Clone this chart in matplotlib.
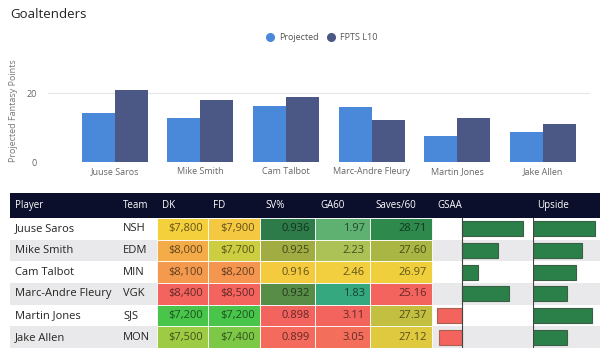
import numpy as np
import matplotlib
matplotlib.use("Agg")
import matplotlib.pyplot as plt
from matplotlib.colors import to_rgb
from matplotlib.patches import Rectangle
from matplotlib.lines import Line2D

plt.rcParams['font.family'] = ['Open Sans', 'DejaVu Sans']

# --- data ---
players = ["Juuse Saros", "Mike Smith", "Cam Talbot", "Marc-Andre Fleury", "Martin Jones", "Jake Allen"]
teams = ["NSH", "EDM", "MIN", "VGK", "SJS", "MON"]
projected = [14.2, 12.7, 16.2, 16.0, 7.6, 8.6]
fpts_l10 = [20.9, 18.0, 18.9, 12.2, 12.7, 11.1]
dk = [7800, 8000, 8100, 8400, 7200, 7500]
fd = [7900, 7700, 8200, 8500, 7200, 7400]
sv_pct = [0.936, 0.925, 0.916, 0.932, 0.898, 0.899]
ga60 = [1.97, 2.23, 2.46, 1.83, 3.11, 3.05]
saves60 = [28.71, 27.60, 26.97, 25.16, 27.37, 27.12]
gsaa = [12.2, 7.2, 3.2, 9.4, -5.0, -4.6]
upside = [6.2, 4.9, 4.3, 3.4, 5.9, 3.4]

W, H = 600, 350
fig = plt.figure(figsize=(6, 3.5), dpi=100)


def px_axes(x0, y0, x1, y1):
    # axes placed by pixel box (top-left origin)
    return fig.add_axes([x0 / W, 1 - y1 / H, (x1 - x0) / W, (y1 - y0) / H])


fig.text(10 / W, 1 - 15 / H, "Goaltenders", fontsize=9.5, color="#252423", va="center")

c_proj = "#4a88da"
c_fpts = "#4b5784"

# --- bar chart ---
ax = px_axes(48, 60, 590, 162)
x = np.arange(len(players))
bw = 0.385
ax.bar(x - bw / 2, projected, bw, color=c_proj)
ax.bar(x + bw / 2, fpts_l10, bw, color=c_fpts)
ax.set_xlim(-0.78, 5.55)
ax.set_ylim(0, 29.7)
ax.set_yticks([0, 20])
ax.set_xticks(x)
ax.set_xticklabels(players)
ax.tick_params(axis="both", length=0, labelsize=6.5, labelcolor="#666666")
ax.tick_params(axis="y", pad=8)
ax.grid(axis="y", color="#e6e6e6", lw=0.8)
ax.set_axisbelow(True)
for s in ax.spines.values():
    s.set_visible(False)
ax.set_ylabel("Projected Fantasy Points", fontsize=6.5, color="#777777", labelpad=6)

# legend with round markers
handles = [Line2D([], [], marker="o", ls="", color=c, markersize=5.5) for c in (c_proj, c_fpts)]
ax.legend(handles, ["Projected", "FPTS L10"], loc="center", bbox_to_anchor=(0.5, (162 - 38) / 102),
          ncol=2, frameon=False, fontsize=6.5, handletextpad=0.0, columnspacing=0.4,
          labelcolor="#555555", borderaxespad=0)

# --- table ---
hdr = 25 / 21.67
tab = px_axes(10, 193, 600, 348)
tab.set_xlim(10, 600)
tab.set_ylim(6, -hdr)
tab.axis("off")

cols = ["Player", "Team", "DK", "FD", "SV%", "GA60", "Saves/60", "GSAA", "Upside"]
edges = [10, 118, 157, 208, 260, 315, 370, 432, 532, 600]
n = len(players)

tab.add_patch(Rectangle((10, -hdr), 590, hdr, color="#0b0f2b", lw=0))
for c, e in zip(cols, edges[:-1]):
    tab.text(e + 5, -hdr / 2, c, color="white", fontsize=7, va="center", ha="left")

for i in range(n):
    if i % 2 == 1:
        tab.add_patch(Rectangle((10, i), 590, 1, color="#e9e9eb", lw=0))
    tab.text(15, i + 0.5, players[i], fontsize=8, va="center", color="#252423")
    tab.text(123, i + 0.5, teams[i], fontsize=8, va="center", color="#252423")

red = np.array(to_rgb("#f4645f"))
yellow = np.array(to_rgb("#f4d03d"))


def heat(vals, v, green, low_good):
    lo, hi = min(vals), max(vals)
    t = (v - lo) / (hi - lo)
    if low_good:
        t = 1 - t
    g = np.array(to_rgb(green))
    if t < 0.5:
        return red + (yellow - red) * (t / 0.5)
    return yellow + (g - yellow) * ((t - 0.5) / 0.5)


heat_cols = [
    (dk, lambda v: f"${v:,}", "#48c54a", True),
    (fd, lambda v: f"${v:,}", "#48c54a", True),
    (sv_pct, lambda v: f"{v:.3f}", "#2e7b4a", False),
    (ga60, lambda v: f"{v:.2f}", "#35a880", True),
    (saves60, lambda v: f"{v:.2f}", "#2e8a4c", False),
]
for k, (vals, fmt, green, low_good) in enumerate(heat_cols):
    x0, x1 = edges[2 + k], edges[3 + k]
    for i, v in enumerate(vals):
        bg = heat(vals, v, green, low_good)
        tab.add_patch(Rectangle((x0, i), x1 - x0, 1, facecolor=bg, edgecolor="white", lw=0.6))
        tab.text(x1 - 5, i + 0.5, fmt(v), fontsize=8, va="center", ha="right", color=bg * 0.4)

# GSAA bars
ga = px_axes(432, 218, 532, 348)
ga.set_facecolor("none")
rows = np.arange(n) + 0.5
gcolors = ["#2b8049" if v >= 0 else "#f4645f" for v in gsaa]
gedges = ["#3b5f46" if v >= 0 else "#a8624e" for v in gsaa]
ga.barh(rows, gsaa, 0.7, color=gcolors, edgecolor=gedges, lw=0.8)
ga.axvline(0, color="#444444", lw=0.8)
ga.set_xlim(-6, 14)
ga.set_ylim(6, 0)
ga.axis("off")

# Upside bars
up = px_axes(533, 218, 600, 348)
up.set_facecolor("none")
up.barh(rows, upside, 0.7, color="#2b8049", edgecolor="#3b5f46", lw=0.8)
up.axvline(0, color="#444444", lw=0.8)
up.set_xlim(0, 6.7)
up.set_ylim(6, 0)
up.axis("off")

fig.savefig("out.png", dpi=100)
